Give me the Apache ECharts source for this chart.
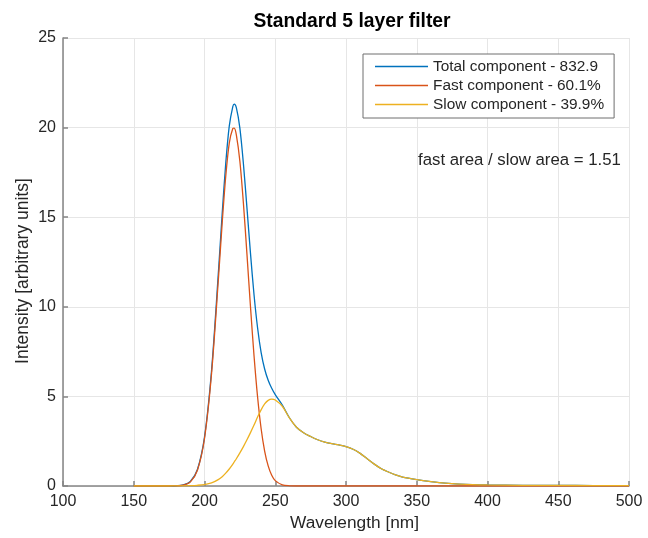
<!DOCTYPE html>
<html>
<head>
<meta charset="utf-8">
<script src="https://cdn.jsdelivr.net/npm/echarts@6/dist/echarts.min.js"></script>
<style>
  html, body { margin: 0; padding: 0; background: #fff; }
  #chart { width: 648px; height: 538px; }
</style>
</head>
<body>
<div id="chart"></div>
<script>
// Wavelength samples (nm)
const wavelength = [150, 160, 170, 175, 180, 185, 190, 195, 200, 205, 210, 212.5, 215, 217.5, 220, 221, 222.5, 225, 227.5, 230, 232.5, 235, 237.5, 240, 242.5, 245, 247.5, 250, 255, 260, 265, 270, 275, 280, 285, 290, 295, 300, 305, 310, 315, 320, 325, 330, 335, 340, 350, 360, 370, 380, 400, 425, 450, 475, 500];

// Fast component intensity
const fastComponent = [0, 0, 0, 0.001, 0.008, 0.047, 0.23, 0.88, 2.65, 6.29, 11.76, 14.68, 17.27, 19.13, 19.95, 19.97, 19.59, 18.12, 15.78, 12.94, 10.0, 7.27, 4.98, 3.21, 1.95, 1.12, 0.60, 0.30, 0.065, 0.011, 0.001, 0, 0, 0, 0, 0, 0, 0, 0, 0, 0, 0, 0, 0, 0, 0, 0, 0, 0, 0, 0, 0, 0, 0, 0];

// Slow component intensity
const slowComponent = [0, 0, 0, 0, 0.005, 0.01, 0.02, 0.04, 0.08, 0.17, 0.37, 0.52, 0.72, 0.95, 1.22, 1.34, 1.52, 1.85, 2.2, 2.58, 2.98, 3.4, 3.85, 4.25, 4.58, 4.78, 4.85, 4.8, 4.45, 3.8, 3.28, 2.97, 2.76, 2.58, 2.45, 2.36, 2.29, 2.2, 2.05, 1.82, 1.52, 1.22, 0.96, 0.78, 0.62, 0.5, 0.36, 0.25, 0.16, 0.11, 0.065, 0.04, 0.03, 0.025, 0.02];

// Total component intensity
const totalComponent = [0, 0, 0, 0.001, 0.013, 0.057, 0.25, 0.92, 2.73, 6.46, 12.13, 15.2, 17.99, 20.08, 21.17, 21.31, 21.11, 19.97, 17.98, 15.52, 12.98, 10.67, 8.83, 7.46, 6.53, 5.9, 5.45, 5.1, 4.52, 3.81, 3.28, 2.97, 2.76, 2.58, 2.45, 2.36, 2.29, 2.2, 2.05, 1.82, 1.52, 1.22, 0.96, 0.78, 0.62, 0.5, 0.36, 0.25, 0.16, 0.11, 0.065, 0.04, 0.03, 0.025, 0.02];

const seriesNames = ['Total component - 832.9', 'Fast component - 60.1%', 'Slow component - 39.9%'];
const seriesColors = ['#0072BD', '#D95319', '#EDB120'];
const areaRatioText = 'fast area / slow area = 1.51';

const FONT = '"Liberation Sans", Arial, Helvetica, sans-serif';
const TXT = '#262626';
const AXIS = '#858585';

function pairs(ys) { return wavelength.map((x, i) => [x, ys[i]]); }

const chart = echarts.init(document.getElementById('chart'), null, { renderer: 'canvas' });

const axisCommon = {
  axisLine: { show: true, lineStyle: { color: AXIS, width: 1.5 } },
  axisTick: { show: true, inside: true, length: 5, lineStyle: { color: AXIS, width: 1.5 } },
  axisLabel: { color: TXT, fontFamily: FONT, fontSize: 16 },
  splitLine: { show: true, lineStyle: { color: '#e6e6e6', width: 1 } },
  nameMoveOverlap: false
};

chart.setOption({
  animation: false,
  backgroundColor: '#ffffff',
  title: {
    text: 'Standard 5 layer filter',
    left: 347, top: 7, textAlign: 'center',
    textStyle: { fontFamily: FONT, fontSize: 19.3, fontWeight: 'bold', color: '#000' }
  },
  grid: { left: 63, right: 19, top: 38, bottom: 52, containLabel: false },
  legend: {
    data: seriesNames,
    orient: 'vertical',
    left: 363, top: 54,
    padding: [3, 10, 4, 12],
    icon: 'rect',
    itemWidth: 53, itemHeight: 1.4, itemGap: 0,
    backgroundColor: '#ffffff',
    borderColor: '#6e6e6e', borderWidth: 1,
    textStyle: { color: TXT, fontFamily: FONT, fontSize: 15.4, lineHeight: 19 }
  },
  graphic: [{
    type: 'text', left: 418, top: 152, z: 100,
    style: { text: areaRatioText, fill: TXT, font: '16.8px ' + FONT }
  }],
  xAxis: Object.assign({}, axisCommon, {
    type: 'value', min: 100, max: 500, interval: 50,
    name: 'Wavelength [nm]', nameLocation: 'middle', nameGap: 29,
    nameTextStyle: { color: TXT, fontFamily: FONT, fontSize: 17.3, padding: [0, 0, 0, 17] },
    axisLabel: Object.assign({}, axisCommon.axisLabel, { margin: 8 })
  }),
  yAxis: Object.assign({}, axisCommon, {
    type: 'value', min: 0, max: 25, interval: 5,
    name: 'Intensity [arbitrary units]', nameLocation: 'middle', nameGap: 31,
    nameTextStyle: { color: TXT, fontFamily: FONT, fontSize: 17.5, padding: [0, 18, 0, 0] },
    axisLabel: Object.assign({}, axisCommon.axisLabel, { margin: 7 })
  }),
  series: [totalComponent, fastComponent, slowComponent].map((ys, i) => ({
    name: seriesNames[i],
    type: 'line',
    data: pairs(ys),
    symbol: 'none',
    smooth: 0.3,
    color: seriesColors[i],
    lineStyle: { color: seriesColors[i], width: 1.3 },
    z: 2 + i
  }))
});
</script>
</body>
</html>
